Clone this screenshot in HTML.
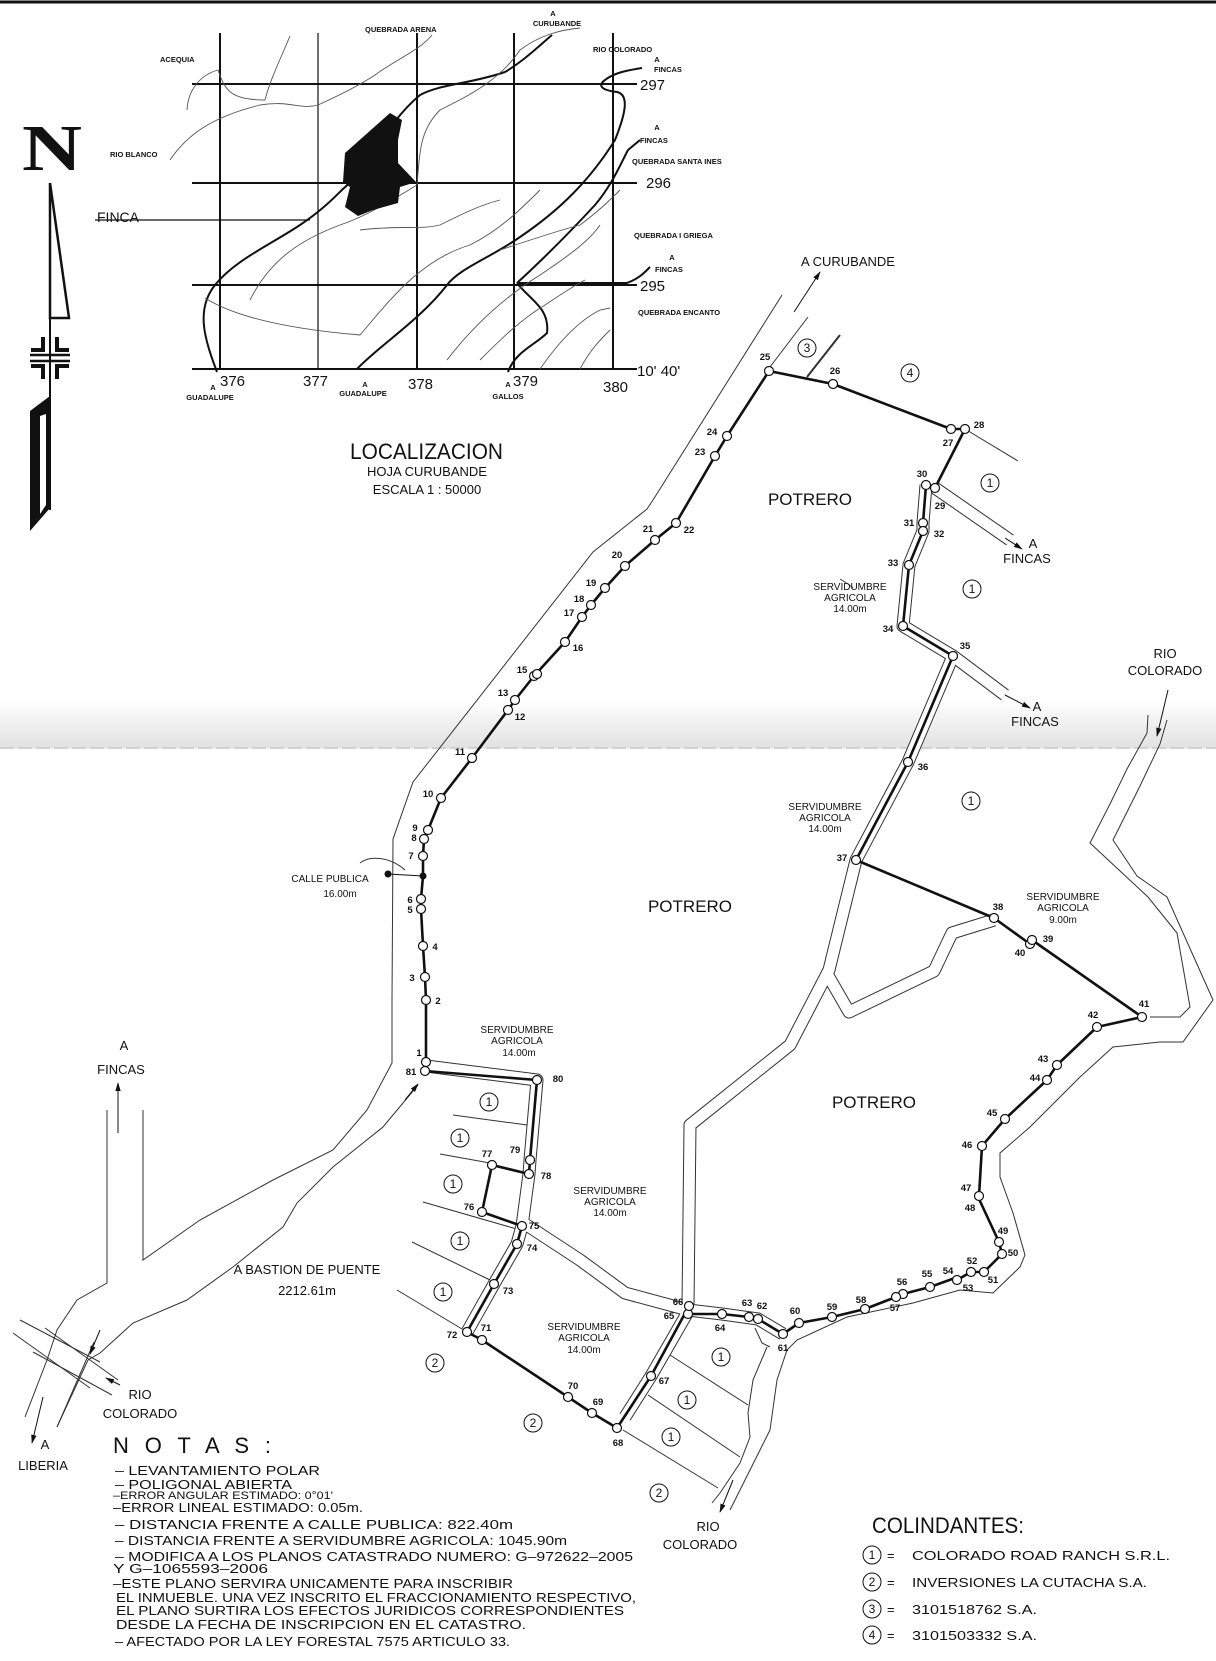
<!DOCTYPE html>
<html><head><meta charset="utf-8"><style>
html,body{margin:0;padding:0;background:#fff;}
svg{display:block;}
text{font-family:"Liberation Sans",sans-serif;fill:#111;}
</style></head><body>
<svg width="1216" height="1661" viewBox="0 0 1216 1661" xmlns="http://www.w3.org/2000/svg">
<defs>
<linearGradient id="fold" x1="0" y1="0" x2="0" y2="1">
<stop offset="0" stop-color="#fff"/><stop offset="0.6" stop-color="#ececec"/><stop offset="0.95" stop-color="#e2e2e2"/><stop offset="1" stop-color="#fff"/>
</linearGradient>
<marker id="ah" viewBox="0 0 10 10" refX="9" refY="5" markerWidth="9" markerHeight="9" orient="auto-start-reverse"><path d="M0,2 L10,5 L0,8 Z" fill="#111"/></marker>
</defs>
<rect width="1216" height="1661" fill="#fff"/>
<rect x="0" y="700" width="1216" height="50" fill="url(#fold)"/>
<line x1="0" y1="748" x2="1216" y2="748" stroke="#bbb" stroke-width="1" stroke-dasharray="14,4"/>
<line x1="0" y1="2" x2="1216" y2="2" stroke="#111" stroke-width="3"/>

<!-- NORTH ARROW -->
<text x="22" y="170" font-family="Liberation Serif" font-weight="bold" font-size="66" textLength="60" lengthAdjust="spacingAndGlyphs" style="font-family:'Liberation Serif',serif">N</text>
<line x1="50" y1="183" x2="50" y2="510" stroke="#111" stroke-width="2"/>
<polygon points="50,183 69,318 50,318" fill="none" stroke="#111" stroke-width="2.5"/>
<g stroke="#111" stroke-width="4" fill="none">
<line x1="30" y1="355" x2="70" y2="355" stroke-width="2.5"/><line x1="30" y1="361" x2="70" y2="361" stroke-width="2.5"/>
<path d="M43,337 V350 H31"/><path d="M57,337 V350 H69"/><path d="M43,379 V366 H31"/><path d="M57,379 V366 H69"/>
</g>
<polygon points="50,396 30,411 30,531 50,508" fill="#111"/>
<polygon points="40,416 46,414 46,505 40,514" fill="#fff"/>

<!-- LOCATION MAP -->
<g stroke="#111" stroke-width="2" fill="none">
<line x1="192" y1="84" x2="637" y2="84"/><line x1="192" y1="183" x2="637" y2="183"/><line x1="192" y1="285" x2="637" y2="285"/><line x1="192" y1="369" x2="637" y2="369"/>
<line x1="220" y1="33" x2="220" y2="369"/><line x1="318" y1="33" x2="318" y2="369" stroke-width="1.2"/><line x1="417" y1="33" x2="417" y2="369"/><line x1="514" y1="33" x2="514" y2="369"/><line x1="613" y1="33" x2="613" y2="369"/>
</g>
<g stroke="#111" stroke-width="2" fill="none">
<path d="M217,372 C205,340 195,310 215,285 C235,260 270,245 300,225 C330,205 340,190 350,183 C370,160 390,120 420,95 C440,84 470,84 505,72 C525,60 540,45 552,35"/>
<path d="M357,369 C380,345 420,320 447,285 C460,268 490,258 520,237 C560,210 590,180 615,140 C625,115 630,95 617,92 C600,90 598,85 605,80 C615,72 630,70 642,68"/>
<path d="M517,283 C540,262 570,232 595,205 C612,185 620,165 628,150 L640,140"/>
<path d="M517,283 C530,300 550,308 547,333 C535,345 515,352 508,372"/>
<path d="M517,283 L627,283 C640,278 645,272 650,267"/>
</g>
<g stroke="#555" stroke-width="0.9" fill="none">
<path d="M187,110 C188,90 200,75 218,70 C225,90 230,100 265,100 C270,80 280,60 290,36"/>
<path d="M170,160 C190,130 220,115 260,105 C290,100 300,110 318,105 C340,95 360,85 375,75 C395,60 420,50 432,35"/>
<path d="M205,298 C240,320 300,330 360,335 C390,300 420,260 470,245 C500,230 520,210 540,190"/>
<path d="M250,300 C270,260 300,240 340,225 C370,215 400,195 417,185 C420,150 420,130 440,110 C470,95 500,80 520,50 C540,35 560,30 580,28"/>
<path d="M360,230 C400,225 420,230 440,225 C460,215 480,205 500,200"/>
<path d="M447,360 C470,330 500,300 540,275 C570,255 590,240 600,225"/>
<path d="M480,360 C500,340 520,320 545,305 C560,295 575,285 585,280"/>
<path d="M540,369 C560,340 580,320 600,310 L610,308"/>
<path d="M580,369 C590,350 600,340 610,330"/>
<path d="M500,250 C530,240 560,230 580,225 C600,210 610,200 620,190"/>
<path d="M95,220 L310,220" stroke="#111" stroke-width="1.2"/>
</g>
<polygon points="390,113 402,120 398,140 398,163 416,182 400,187 398,203 373,210 358,216 345,207 350,187 343,182 345,153" fill="#111"/>
<g font-weight="bold" font-size="7.5">
<text x="365" y="32">QUEBRADA ARENA</text>
<text x="160" y="62">ACEQUIA</text>
<text x="110" y="157">RIO BLANCO</text>
<text x="553" y="16" text-anchor="middle">A</text><text x="557" y="26" text-anchor="middle">CURUBANDE</text>
<text x="593" y="52">RIO COLORADO</text>
<text x="657" y="62" text-anchor="middle">A</text><text x="654" y="72">FINCAS</text>
<text x="657" y="130" text-anchor="middle">A</text><text x="640" y="143">FINCAS</text>
<text x="632" y="164">QUEBRADA SANTA INES</text>
<text x="634" y="238">QUEBRADA I GRIEGA</text>
<text x="672" y="260" text-anchor="middle">A</text><text x="655" y="272">FINCAS</text>
<text x="638" y="315">QUEBRADA ENCANTO</text>
<text x="213" y="390" text-anchor="middle">A</text><text x="210" y="400" text-anchor="middle">GUADALUPE</text>
<text x="365" y="387" text-anchor="middle">A</text><text x="363" y="396" text-anchor="middle">GUADALUPE</text>
<text x="508" y="387" text-anchor="middle">A</text><text x="508" y="399" text-anchor="middle">GALLOS</text>
</g>
<text x="97" y="222" font-size="14">FINCA</text>
<g font-size="15">
<text x="640" y="90">297</text><text x="646" y="188">296</text><text x="640" y="291">295</text><text x="637" y="376">10' 40'</text>
<text x="220" y="386">376</text><text x="303" y="386">377</text><text x="408" y="389">378</text><text x="513" y="386">379</text><text x="603" y="392">380</text>
</g>
<text x="350" y="459" font-size="22" textLength="153" lengthAdjust="spacingAndGlyphs">LOCALIZACION</text>
<text x="427" y="476" font-size="13" text-anchor="middle">HOJA CURUBANDE</text>
<text x="427" y="494" font-size="13" text-anchor="middle">ESCALA 1 :  50000</text>

<!-- ROAD / BOUNDARY THIN LINES -->
<g stroke="#333" stroke-width="1" fill="none">
<path d="M782,295 L653,500 L647,509 L593,552 L413,782 L393,839 L392,1000 L392,1063 L367,1110 L333,1150 L273,1180 L200,1220 L143,1260 L143,1110"/>
<path d="M107,1110 L107,1283 L77,1300 L57,1330 L47,1360 L25,1417"/>
<path d="M418,1085 L383,1127 L333,1167 L297,1203 L283,1227 L233,1267 L187,1300 L133,1323 L100,1353 L88,1360 L57,1427"/>
<line x1="808" y1="317" x2="770" y2="367"/>
<line x1="807" y1="377" x2="840" y2="335" stroke-width="2"/>
<line x1="965" y1="429" x2="1018" y2="461"/>
<!-- river right -->
<path d="M1148,715 L1147,733 L1127,769 L1110,804 L1090,843 L1148,897 L1177,933 L1190,1007 L1180,1017 L1150,1017"/>
<path d="M1167,720 L1160,744 L1140,786 L1113,840 L1137,876 L1167,897 L1213,1000 L1183,1042 L1160,1042 L1113,1047 L1080,1077 L1030,1127 L1000,1153 L1000,1177 L1013,1213 L1025,1255 L1020,1267 L993,1293 L960,1290 L913,1303 L847,1317 L797,1340 L787,1350 L777,1380 L770,1430 L760,1450 L730,1510"/>
<path d="M767,1347 L753,1380 L748,1413 L750,1437 L740,1463 L720,1493 L712,1503"/>
<!-- parcel lines -->
<line x1="453" y1="1115" x2="527" y2="1125"/><line x1="440" y1="1154" x2="490" y2="1163"/>
<line x1="423" y1="1202" x2="520" y2="1230"/><line x1="412" y1="1242" x2="490" y2="1280"/>
<line x1="397" y1="1290" x2="467" y2="1332"/>
<line x1="670" y1="1355" x2="748" y2="1405"/><line x1="648" y1="1395" x2="740" y2="1457"/><line x1="623" y1="1430" x2="718" y2="1488"/>
<path d="M755,1328 L762,1343 L770,1347"/>
<!-- crossing -->
<line x1="20" y1="1320" x2="100" y2="1362"/><line x1="13" y1="1333" x2="90" y2="1388"/>
<line x1="45" y1="1328" x2="118" y2="1380"/><line x1="33" y1="1352" x2="112" y2="1395"/>
<line x1="94" y1="1342" x2="57" y2="1427"/>
<path d="M360,863 C370,855 390,857 405,870"/>
<path d="M840,579 C845,582 850,585 853,588"/>
</g>
<!-- corridors -->
<g fill="none" stroke-linejoin="round">
<g stroke="#333" stroke-width="13">
<polyline points="926,485 923,523 923,531 909,565 903,626 953,656 908,762 856,860 829,970 790,1045 690,1125 688,1306"/>
<polyline points="994,920 952,933 934,971 849,1012 826,972"/>
<polyline points="426,1066 537,1080 530,1160 529,1174 522,1226 517,1244 494,1284 467,1332"/>
<polyline points="522,1222 580,1260 625,1293 688,1310 722,1314 758,1319 783,1334"/>
<polyline points="689,1310 651,1376 625,1417"/>
<polyline points="935,488 1010,540"/><polyline points="953,656 1005,695"/>
</g>
<g stroke="#fff" stroke-width="11">
<polyline points="926,485 923,523 923,531 909,565 903,626 953,656 908,762 856,860 829,970 790,1045 690,1125 688,1306"/>
<polyline points="994,920 952,933 934,971 849,1012 826,972"/>
<polyline points="426,1066 537,1080 530,1160 529,1174 522,1226 517,1244 494,1284 467,1332"/>
<polyline points="522,1222 580,1260 625,1293 688,1310 722,1314 758,1319 783,1334"/>
<polyline points="689,1310 651,1376 625,1417"/>
<polyline points="935,488 1010,540"/><polyline points="953,656 1005,695"/>
</g>
</g>
<!-- arrows -->
<g stroke="#111" stroke-width="1" marker-end="url(#ah)">
<line x1="794" y1="312" x2="820" y2="272"/>
<line x1="1005" y1="538" x2="1022" y2="549"/>
<line x1="1005" y1="695" x2="1030" y2="708"/>
<line x1="1168" y1="690" x2="1157" y2="736"/>
<line x1="118" y1="1133" x2="118" y2="1083"/>
<line x1="405" y1="1100" x2="418" y2="1084"/>
<line x1="100" y1="1330" x2="90" y2="1354"/>
<line x1="43" y1="1397" x2="32" y2="1443"/>
<line x1="120" y1="1385" x2="106" y2="1378"/>
<line x1="733" y1="1480" x2="720" y2="1512"/>
</g>
<!-- MAIN ROUTE -->
<polyline fill="none" stroke="#111" stroke-width="2.6" stroke-linejoin="round" points="426,1062 426,1000 425,977 423,946 421,909 421,899 423,876 423,856 424,839 428,830 441,798 472,758 508,710 515,700 534,676 565,642 582,617 591,605 605,588 625,566 655,540 676,523 715,456 727,436 769,371 833,384 951,429 965,429 935,488 926,485 923,523 923,531 909,565 903,626 953,656 908,762 856,860 994,918 1030,944 1032,940 1142,1017 1097,1027 1057,1065 1047,1080 1005,1119 982,1146 979,1196 979,1199 999,1242 1002,1254 984,1272 971,1272 957,1280 955,1278 930,1287 903,1294 896,1297 865,1309 832,1317 799,1323 783,1334 758,1319 749,1317 722,1314 688,1314 689,1306 651,1376 617,1428 592,1413 568,1397 482,1340 467,1332 494,1284 517,1244 522,1226 482,1212 492,1165 529,1174 530,1160 537,1080 425,1071"/>
<line x1="388" y1="874" x2="423" y2="876" stroke="#111" stroke-width="1"/>
<circle cx="388" cy="874" r="3.5" fill="#111"/><circle cx="423" cy="876" r="3.5" fill="#111"/>
<g fill="#fff" stroke="#111" stroke-width="1.2">
<circle cx="426" cy="1062" r="4.5"/><circle cx="425" cy="1071" r="4.5"/><circle cx="426" cy="1000" r="4.5"/><circle cx="425" cy="977" r="4.5"/><circle cx="423" cy="946" r="4.5"/><circle cx="421" cy="909" r="4.5"/><circle cx="421" cy="899" r="4.5"/><circle cx="423" cy="856" r="4.5"/><circle cx="424" cy="839" r="4.5"/><circle cx="428" cy="830" r="4.5"/><circle cx="441" cy="798" r="4.5"/><circle cx="472" cy="758" r="4.5"/><circle cx="508" cy="710" r="4.5"/><circle cx="515" cy="700" r="4.5"/><circle cx="534" cy="676" r="4.5"/><circle cx="537" cy="674" r="4.5"/><circle cx="565" cy="642" r="4.5"/><circle cx="582" cy="617" r="4.5"/><circle cx="591" cy="605" r="4.5"/><circle cx="605" cy="588" r="4.5"/><circle cx="625" cy="566" r="4.5"/><circle cx="655" cy="540" r="4.5"/><circle cx="676" cy="523" r="4.5"/><circle cx="715" cy="456" r="4.5"/><circle cx="727" cy="436" r="4.5"/><circle cx="769" cy="371" r="4.5"/><circle cx="833" cy="384" r="4.5"/><circle cx="951" cy="429" r="4.5"/><circle cx="965" cy="429" r="4.5"/><circle cx="935" cy="488" r="4.5"/><circle cx="926" cy="485" r="4.5"/><circle cx="923" cy="523" r="4.5"/><circle cx="923" cy="531" r="4.5"/><circle cx="909" cy="565" r="4.5"/><circle cx="903" cy="626" r="4.5"/><circle cx="953" cy="656" r="4.5"/><circle cx="908" cy="762" r="4.5"/><circle cx="856" cy="860" r="4.5"/><circle cx="994" cy="918" r="4.5"/><circle cx="1030" cy="944" r="4.5"/><circle cx="1032" cy="940" r="4.5"/><circle cx="1142" cy="1017" r="4.5"/><circle cx="1097" cy="1027" r="4.5"/><circle cx="1057" cy="1065" r="4.5"/><circle cx="1047" cy="1080" r="4.5"/><circle cx="1005" cy="1119" r="4.5"/><circle cx="982" cy="1146" r="4.5"/><circle cx="979" cy="1196" r="4.5"/><circle cx="999" cy="1242" r="4.5"/><circle cx="1002" cy="1254" r="4.5"/><circle cx="984" cy="1272" r="4.5"/><circle cx="971" cy="1272" r="4.5"/><circle cx="957" cy="1280" r="4.5"/><circle cx="930" cy="1287" r="4.5"/><circle cx="903" cy="1294" r="4.5"/><circle cx="896" cy="1297" r="4.5"/><circle cx="865" cy="1309" r="4.5"/><circle cx="832" cy="1317" r="4.5"/><circle cx="799" cy="1323" r="4.5"/><circle cx="783" cy="1334" r="4.5"/><circle cx="758" cy="1319" r="4.5"/><circle cx="749" cy="1317" r="4.5"/><circle cx="722" cy="1314" r="4.5"/><circle cx="688" cy="1314" r="4.5"/><circle cx="689" cy="1306" r="4.5"/><circle cx="651" cy="1376" r="4.5"/><circle cx="617" cy="1428" r="4.5"/><circle cx="592" cy="1413" r="4.5"/><circle cx="568" cy="1397" r="4.5"/><circle cx="482" cy="1340" r="4.5"/><circle cx="467" cy="1332" r="4.5"/><circle cx="494" cy="1284" r="4.5"/><circle cx="517" cy="1244" r="4.5"/><circle cx="522" cy="1226" r="4.5"/><circle cx="482" cy="1212" r="4.5"/><circle cx="492" cy="1165" r="4.5"/><circle cx="529" cy="1174" r="4.5"/><circle cx="530" cy="1160" r="4.5"/><circle cx="537" cy="1080" r="4.5"/>
</g>
<!-- point labels -->
<g font-size="9.5" font-weight="bold" text-anchor="middle">
<text x="419" y="1056">1</text><text x="411" y="1075">81</text><text x="438" y="1004">2</text><text x="412" y="981">3</text><text x="435" y="950">4</text><text x="410" y="913">5</text><text x="410" y="903">6</text><text x="411" y="859">7</text><text x="414" y="841">8</text><text x="415" y="831">9</text>
<text x="428" y="797">10</text><text x="460" y="755">11</text><text x="520" y="720">12</text><text x="503" y="696">13</text><text x="522" y="673">15</text><text x="578" y="651">16</text><text x="569" y="616">17</text><text x="579" y="602">18</text><text x="591" y="586">19</text><text x="617" y="558">20</text><text x="648" y="532">21</text><text x="689" y="533">22</text><text x="700" y="455">23</text><text x="712" y="435">24</text><text x="765" y="360">25</text><text x="835" y="374">26</text><text x="948" y="446">27</text><text x="979" y="428">28</text><text x="940" y="509">29</text><text x="922" y="477">30</text><text x="909" y="526">31</text><text x="939" y="537">32</text><text x="893" y="566">33</text><text x="888" y="632">34</text><text x="965" y="649">35</text><text x="923" y="770">36</text><text x="842" y="861">37</text>
<text x="998" y="910">38</text><text x="1048" y="942">39</text><text x="1020" y="956">40</text><text x="1144" y="1007">41</text><text x="1093" y="1018">42</text><text x="1043" y="1062">43</text><text x="1035" y="1081">44</text><text x="992" y="1116">45</text><text x="967" y="1148">46</text><text x="966" y="1191">47</text><text x="970" y="1211">48</text><text x="1003" y="1234">49</text><text x="1013" y="1256">50</text><text x="993" y="1283">51</text><text x="972" y="1264">52</text><text x="968" y="1291">53</text><text x="948" y="1274">54</text><text x="927" y="1277">55</text><text x="902" y="1285">56</text><text x="895" y="1311">57</text><text x="861" y="1303">58</text><text x="832" y="1310">59</text><text x="795" y="1314">60</text><text x="783" y="1351">61</text><text x="762" y="1309">62</text><text x="747" y="1306">63</text><text x="720" y="1331">64</text><text x="669" y="1319">65</text><text x="678" y="1305">66</text><text x="664" y="1384">67</text><text x="618" y="1446">68</text><text x="598" y="1405">69</text><text x="573" y="1389">70</text><text x="486" y="1331">71</text><text x="452" y="1338">72</text><text x="508" y="1294">73</text><text x="532" y="1251">74</text><text x="534" y="1229">75</text><text x="469" y="1210">76</text><text x="487" y="1157">77</text><text x="546" y="1179">78</text><text x="515" y="1153">79</text><text x="558" y="1082">80</text>
</g>
<!-- circled owner numbers -->
<g font-size="12" text-anchor="middle">
<g fill="none" stroke="#111" stroke-width="1">
<circle cx="807" cy="348" r="9"/><circle cx="910" cy="373" r="9"/><circle cx="990" cy="483" r="9"/><circle cx="972" cy="589" r="9"/><circle cx="971" cy="801" r="9"/>
<circle cx="489" cy="1102" r="9"/><circle cx="460" cy="1138" r="9"/><circle cx="453" cy="1184" r="9"/><circle cx="460" cy="1241" r="9"/><circle cx="443" cy="1292" r="9"/><circle cx="435" cy="1363" r="9"/><circle cx="533" cy="1423" r="9"/>
<circle cx="721" cy="1357" r="9"/><circle cx="687" cy="1400" r="9"/><circle cx="671" cy="1437" r="9"/><circle cx="659" cy="1493" r="9"/>
</g>
<text x="807" y="352">3</text><text x="910" y="377">4</text><text x="990" y="487">1</text><text x="972" y="593">1</text><text x="971" y="805">1</text>
<text x="489" y="1106">1</text><text x="460" y="1142">1</text><text x="453" y="1188">1</text><text x="460" y="1245">1</text><text x="443" y="1296">1</text><text x="435" y="1367">2</text><text x="533" y="1427">2</text>
<text x="721" y="1361">1</text><text x="687" y="1404">1</text><text x="671" y="1441">1</text><text x="659" y="1497">2</text>
</g>
<!-- area & road labels -->
<g font-size="17" text-anchor="middle">
<text x="810" y="505">POTRERO</text><text x="690" y="912">POTRERO</text><text x="874" y="1108">POTRERO</text>
</g>
<g font-size="13" text-anchor="middle">
<text x="848" y="266">A  CURUBANDE</text>
<text x="1033" y="548">A</text><text x="1027" y="563">FINCAS</text>
<text x="1037" y="711">A</text><text x="1035" y="726">FINCAS</text>
<text x="1165" y="658">RIO</text><text x="1165" y="675">COLORADO</text>
<text x="124" y="1050">A</text><text x="121" y="1074">FINCAS</text>
<text x="307" y="1274">A BASTION DE PUENTE</text><text x="307" y="1295">2212.61m</text>
<text x="140" y="1399">RIO</text><text x="140" y="1418">COLORADO</text>
<text x="45" y="1449">A</text><text x="43" y="1470">LIBERIA</text>
<text x="708" y="1531">RIO</text><text x="700" y="1549">COLORADO</text>
</g>
<g font-size="10" text-anchor="middle">
<text x="330" y="882">CALLE PUBLICA</text><text x="340" y="897">16.00m</text>
<text x="517" y="1033">SERVIDUMBRE</text><text x="517" y="1044">AGRICOLA</text><text x="519" y="1056">14.00m</text>
<text x="610" y="1194">SERVIDUMBRE</text><text x="610" y="1205">AGRICOLA</text><text x="610" y="1216">14.00m</text>
<text x="584" y="1330">SERVIDUMBRE</text><text x="584" y="1341">AGRICOLA</text><text x="584" y="1353">14.00m</text>
<text x="850" y="590">SERVIDUMBRE</text><text x="850" y="601">AGRICOLA</text><text x="850" y="612">14.00m</text>
<text x="825" y="810">SERVIDUMBRE</text><text x="825" y="821">AGRICOLA</text><text x="825" y="832">14.00m</text>
<text x="1063" y="900">SERVIDUMBRE</text><text x="1063" y="911">AGRICOLA</text><text x="1063" y="923">9.00m</text>
</g>
<!-- NOTES -->
<text x="113" y="1453" font-size="22" textLength="158" lengthAdjust="spacing">N O T A S :</text>
<g font-size="13">
<text x="115" y="1475" textLength="205" lengthAdjust="spacingAndGlyphs">– LEVANTAMIENTO POLAR</text>
<text x="115" y="1489" textLength="177" lengthAdjust="spacingAndGlyphs">– POLIGONAL ABIERTA</text>
<text x="113" y="1499" font-size="11" textLength="220" lengthAdjust="spacingAndGlyphs">–ERROR ANGULAR ESTIMADO: 0°01'</text>
<text x="113" y="1512" textLength="250" lengthAdjust="spacingAndGlyphs">–ERROR LINEAL ESTIMADO: 0.05m.</text>
<text x="115" y="1529" textLength="398" lengthAdjust="spacingAndGlyphs">– DISTANCIA FRENTE A CALLE PUBLICA:  822.40m</text>
<text x="115" y="1545" textLength="452" lengthAdjust="spacingAndGlyphs">– DISTANCIA FRENTE A SERVIDUMBRE AGRICOLA:  1045.90m</text>
<text x="115" y="1561" textLength="518" lengthAdjust="spacingAndGlyphs">– MODIFICA A LOS PLANOS CATASTRADO NUMERO:  G–972622–2005</text>
<text x="113" y="1573" textLength="155" lengthAdjust="spacingAndGlyphs">Y G–1065593–2006</text>
<text x="113" y="1588" textLength="400" lengthAdjust="spacingAndGlyphs">–ESTE PLANO SERVIRA UNICAMENTE PARA INSCRIBIR</text>
<text x="116" y="1602" textLength="520" lengthAdjust="spacingAndGlyphs">EL INMUEBLE. UNA VEZ INSCRITO EL FRACCIONAMIENTO RESPECTIVO,</text>
<text x="116" y="1615" textLength="508" lengthAdjust="spacingAndGlyphs">EL PLANO SURTIRA LOS EFECTOS JURIDICOS CORRESPONDIENTES</text>
<text x="116" y="1629" textLength="410" lengthAdjust="spacingAndGlyphs">DESDE LA FECHA DE INSCRIPCION EN EL CATASTRO.</text>
<text x="115" y="1646" textLength="395" lengthAdjust="spacingAndGlyphs">– AFECTADO POR LA LEY FORESTAL 7575 ARTICULO 33.</text>
</g>
<!-- COLINDANTES -->
<text x="872" y="1533" font-size="22" textLength="152" lengthAdjust="spacingAndGlyphs">COLINDANTES:</text>
<g fill="none" stroke="#111" stroke-width="1">
<circle cx="872" cy="1555" r="9"/><circle cx="872" cy="1582" r="9"/><circle cx="872" cy="1609" r="9"/><circle cx="872" cy="1635" r="9"/>
</g>
<g font-size="12" text-anchor="middle"><text x="872" y="1559">1</text><text x="872" y="1586">2</text><text x="872" y="1613">3</text><text x="872" y="1639">4</text></g>
<g font-size="13">
<text x="887" y="1560">=</text><text x="912" y="1560" textLength="258" lengthAdjust="spacingAndGlyphs">COLORADO ROAD RANCH S.R.L.</text>
<text x="887" y="1587">=</text><text x="912" y="1587" textLength="235" lengthAdjust="spacingAndGlyphs">INVERSIONES LA CUTACHA S.A.</text>
<text x="887" y="1614">=</text><text x="912" y="1614" textLength="125" lengthAdjust="spacingAndGlyphs">3101518762 S.A.</text>
<text x="887" y="1640">=</text><text x="912" y="1640" textLength="125" lengthAdjust="spacingAndGlyphs">3101503332 S.A.</text>
</g>
</svg>
</body></html>
